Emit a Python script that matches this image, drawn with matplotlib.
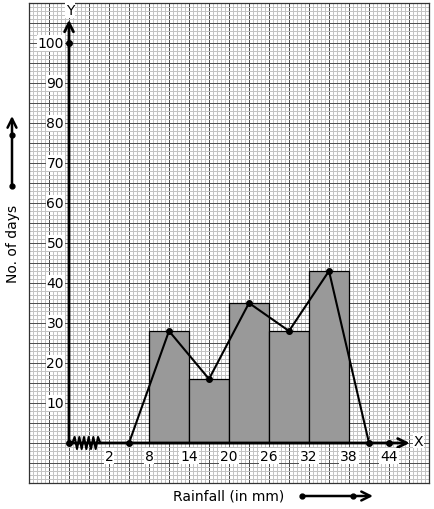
import matplotlib
matplotlib.use('Agg')
import matplotlib.pyplot as plt
import numpy as np

# histogram data
class_edges = [8, 14, 20, 26, 32, 38]
days        = [28, 16, 35, 28, 43]

# frequency polygon (class marks incl. empty classes at both ends)
poly_x = [5, 11, 17, 23, 29, 35, 41]
poly_y = [0, 28, 16, 35, 28, 43, 0]

x_ticks  = [2, 8, 14, 20, 26, 32, 38, 44]
y_ticks  = [10, 20, 30, 40, 50, 60, 70, 80, 90, 100]
ORIGIN_X = -4          # where the kinked x axis starts

W, H = 434, 510
fig = plt.figure(figsize=(W / 100, H / 100), dpi=100)
ax = fig.add_axes([29 / W, (H - 484) / H, 400 / W, 480 / H])
ax.set_xlim(-10, 50)
ax.set_ylim(-10, 110)

# graph paper
ax.set_xticks(np.arange(-10, 50.01, 3))
ax.set_xticks(np.arange(-10, 50.01, 0.6), minor=True)
ax.set_yticks(np.arange(-10, 110.01, 5))
ax.set_yticks(np.arange(-10, 110.01, 1), minor=True)
ax.grid(which='minor', color='#c4c4c4', lw=0.72)
ax.grid(which='major', color='#505050', lw=0.72)
ax.tick_params(which='both', length=0, labelbottom=False, labelleft=False)
ax.set_axisbelow(True)
for s in ax.spines.values():
    s.set_color('#333333')
    s.set_linewidth(0.9)

# bars
widths = np.diff(class_edges)
ax.bar(class_edges[:-1], days, width=widths, align='edge',
       color='#999999', edgecolor='black', lw=0.9, zorder=3)

# frequency polygon
ax.plot(poly_x, poly_y, '-o', color='black', lw=1.5, ms=4, zorder=5)

# axes with arrows
ax.annotate('', xy=(47.1, 0), xytext=(ORIGIN_X, 0),
            arrowprops=dict(arrowstyle='->', lw=2, color='black',
                            mutation_scale=16, shrinkA=0, shrinkB=0), zorder=6)
ax.annotate('', xy=(ORIGIN_X, 105.8), xytext=(ORIGIN_X, 0),
            arrowprops=dict(arrowstyle='->', lw=2, color='black',
                            mutation_scale=16, shrinkA=0, shrinkB=0), zorder=6)
ax.plot([ORIGIN_X, 44, ORIGIN_X], [0, 0, 100], 'o', color='black', ms=4, zorder=7)

# kink on x axis near origin
zx = np.linspace(-3.5, 0.7, 13)
zy = np.array([0, 1.5, -1.5, 1.5, -1.5, 1.5, -1.5, 1.5, -1.5, 1.5, -1.5, 1.5, 0])
ax.plot(zx, zy, color='black', lw=1.5, zorder=7)

box = dict(facecolor='white', edgecolor='none', pad=0.6)
for v in y_ticks:
    ax.text(-4.75, v, str(v), ha='right', va='center', fontsize=10,
            bbox=box, zorder=8)
for v in x_ticks:
    ax.text(v, -3.25, str(v), ha='center', va='center', fontsize=10,
            bbox=box, zorder=8)
ax.text(ORIGIN_X + 0.15, 108.3, 'Y', ha='center', va='center', fontsize=10,
        bbox=box, zorder=8)
ax.text(48.4, 0.6, 'X', ha='center', va='center', fontsize=10,
        bbox=box, zorder=8)

# outer labels
ax.text(2 + (229 - 109) * 0.15, (444 - 497) / 4, 'Rainfall (in mm)',
        ha='center', va='center', fontsize=10)
ax.text(2 + (13 - 109) * 0.15, (444 - 244) / 4, 'No. of days',
        ha='center', va='center', fontsize=10, rotation=90)

# direction arrows outside the grid
bx0, bx1, bdot = [2 + (p - 109) * 0.15 for p in (302, 373, 353)]
by = (444 - 497) / 4
ax.annotate('', xy=(bx1, by), xytext=(bx0, by), annotation_clip=False,
            arrowprops=dict(arrowstyle='->', lw=1.8, color='black',
                            mutation_scale=16, shrinkA=0, shrinkB=0))
ax.plot([bx0, bdot], [by, by], 'o', color='black', ms=3.5, clip_on=False)

lx = 2 + (12 - 109) * 0.15
ly0, ly1, ldot = [(444 - p) / 4 for p in (187, 117, 136)]
ax.annotate('', xy=(lx, ly1), xytext=(lx, ly0), annotation_clip=False,
            arrowprops=dict(arrowstyle='->', lw=1.8, color='black',
                            mutation_scale=16, shrinkA=0, shrinkB=0))
ax.plot([lx, lx], [ly0, ldot], 'o', color='black', ms=3.5, clip_on=False)

fig.savefig('out.png', dpi=100)
